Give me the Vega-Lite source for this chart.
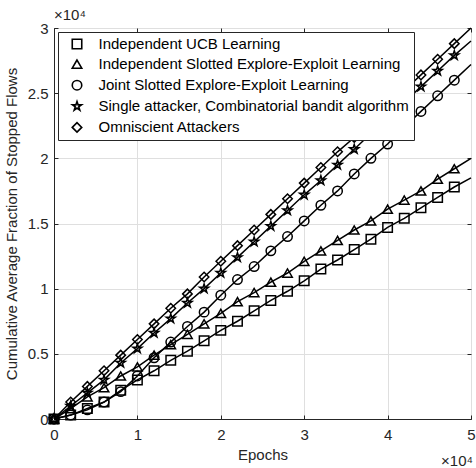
{
  "$schema": "https://vega.github.io/schema/vega-lite/v6.json",
  "width": 417,
  "height": 391,
  "autosize": {"type": "none"},
  "padding": {"left": 54, "top": 28, "right": 5, "bottom": 49},
  "background": "white",
  "config": {
    "font": "Liberation Sans",
    "view": {"stroke": "#262626", "strokeWidth": 1},
    "axis": {
      "labelFontSize": 15,
      "titleFontSize": 15,
      "labelColor": "#262626",
      "titleColor": "#262626",
      "titleFontWeight": "normal",
      "domainColor": "#262626",
      "tickColor": "#262626",
      "gridColor": "#dfdfdf",
      "gridWidth": 1,
      "tickSize": -4,
      "labelFlush": false
    },
    "legend": {
      "orient": "top-left",
      "offset": 4,
      "fillColor": "white",
      "strokeColor": "#262626",
      "padding": 4.5,
      "labelFontSize": 15,
      "labelColor": "black",
      "labelLimit": 500,
      "labelOffset": 14,
      "symbolOffset": 7,
      "symbolStrokeColor": "black",
      "symbolFillColor": "transparent",
      "symbolStrokeWidth": 1.6,
      "symbolSize": 90,
      "rowPadding": 4.1
    }
  },
  "title": {"text": "×10⁴", "anchor": "start", "frame": "group", "fontSize": 15, "fontWeight": "normal", "color": "#262626", "offset": -2},
  "data": {"values": [
    {"series": "Independent UCB Learning", "epoch": 0, "value": 0},
    {"series": "Independent UCB Learning", "epoch": 2000, "value": 300},
    {"series": "Independent UCB Learning", "epoch": 4000, "value": 800},
    {"series": "Independent UCB Learning", "epoch": 6000, "value": 1300},
    {"series": "Independent UCB Learning", "epoch": 8000, "value": 2200},
    {"series": "Independent UCB Learning", "epoch": 10000, "value": 3000},
    {"series": "Independent UCB Learning", "epoch": 12000, "value": 3700},
    {"series": "Independent UCB Learning", "epoch": 14000, "value": 4500},
    {"series": "Independent UCB Learning", "epoch": 16000, "value": 5200},
    {"series": "Independent UCB Learning", "epoch": 18000, "value": 6000},
    {"series": "Independent UCB Learning", "epoch": 20000, "value": 6800},
    {"series": "Independent UCB Learning", "epoch": 22000, "value": 7500},
    {"series": "Independent UCB Learning", "epoch": 24000, "value": 8300},
    {"series": "Independent UCB Learning", "epoch": 26000, "value": 9100},
    {"series": "Independent UCB Learning", "epoch": 28000, "value": 9800},
    {"series": "Independent UCB Learning", "epoch": 30000, "value": 10600},
    {"series": "Independent UCB Learning", "epoch": 32000, "value": 11500},
    {"series": "Independent UCB Learning", "epoch": 34000, "value": 12200},
    {"series": "Independent UCB Learning", "epoch": 36000, "value": 13000},
    {"series": "Independent UCB Learning", "epoch": 38000, "value": 13800},
    {"series": "Independent UCB Learning", "epoch": 40000, "value": 14700},
    {"series": "Independent UCB Learning", "epoch": 42000, "value": 15400},
    {"series": "Independent UCB Learning", "epoch": 44000, "value": 16200},
    {"series": "Independent UCB Learning", "epoch": 46000, "value": 17000},
    {"series": "Independent UCB Learning", "epoch": 48000, "value": 17800},
    {"series": "Independent UCB Learning", "epoch": 50000, "value": 18500},
    {"series": "Independent Slotted Explore-Exploit Learning", "epoch": 0, "value": 0},
    {"series": "Independent Slotted Explore-Exploit Learning", "epoch": 2000, "value": 800},
    {"series": "Independent Slotted Explore-Exploit Learning", "epoch": 4000, "value": 1700},
    {"series": "Independent Slotted Explore-Exploit Learning", "epoch": 6000, "value": 2400},
    {"series": "Independent Slotted Explore-Exploit Learning", "epoch": 8000, "value": 3300},
    {"series": "Independent Slotted Explore-Exploit Learning", "epoch": 10000, "value": 4000},
    {"series": "Independent Slotted Explore-Exploit Learning", "epoch": 12000, "value": 4900},
    {"series": "Independent Slotted Explore-Exploit Learning", "epoch": 14000, "value": 5700},
    {"series": "Independent Slotted Explore-Exploit Learning", "epoch": 16000, "value": 6500},
    {"series": "Independent Slotted Explore-Exploit Learning", "epoch": 18000, "value": 7300},
    {"series": "Independent Slotted Explore-Exploit Learning", "epoch": 20000, "value": 8100},
    {"series": "Independent Slotted Explore-Exploit Learning", "epoch": 22000, "value": 9000},
    {"series": "Independent Slotted Explore-Exploit Learning", "epoch": 24000, "value": 9700},
    {"series": "Independent Slotted Explore-Exploit Learning", "epoch": 26000, "value": 10500},
    {"series": "Independent Slotted Explore-Exploit Learning", "epoch": 28000, "value": 11200},
    {"series": "Independent Slotted Explore-Exploit Learning", "epoch": 30000, "value": 12100},
    {"series": "Independent Slotted Explore-Exploit Learning", "epoch": 32000, "value": 12900},
    {"series": "Independent Slotted Explore-Exploit Learning", "epoch": 34000, "value": 13700},
    {"series": "Independent Slotted Explore-Exploit Learning", "epoch": 36000, "value": 14500},
    {"series": "Independent Slotted Explore-Exploit Learning", "epoch": 38000, "value": 15200},
    {"series": "Independent Slotted Explore-Exploit Learning", "epoch": 40000, "value": 16100},
    {"series": "Independent Slotted Explore-Exploit Learning", "epoch": 42000, "value": 16800},
    {"series": "Independent Slotted Explore-Exploit Learning", "epoch": 44000, "value": 17500},
    {"series": "Independent Slotted Explore-Exploit Learning", "epoch": 46000, "value": 18400},
    {"series": "Independent Slotted Explore-Exploit Learning", "epoch": 48000, "value": 19200},
    {"series": "Independent Slotted Explore-Exploit Learning", "epoch": 50000, "value": 20000},
    {"series": "Joint Slotted Explore-Exploit Learning", "epoch": 0, "value": 0},
    {"series": "Joint Slotted Explore-Exploit Learning", "epoch": 2000, "value": 300},
    {"series": "Joint Slotted Explore-Exploit Learning", "epoch": 4000, "value": 700},
    {"series": "Joint Slotted Explore-Exploit Learning", "epoch": 6000, "value": 1300},
    {"series": "Joint Slotted Explore-Exploit Learning", "epoch": 8000, "value": 2100},
    {"series": "Joint Slotted Explore-Exploit Learning", "epoch": 10000, "value": 3300},
    {"series": "Joint Slotted Explore-Exploit Learning", "epoch": 12000, "value": 4700},
    {"series": "Joint Slotted Explore-Exploit Learning", "epoch": 14000, "value": 5900},
    {"series": "Joint Slotted Explore-Exploit Learning", "epoch": 16000, "value": 7100},
    {"series": "Joint Slotted Explore-Exploit Learning", "epoch": 18000, "value": 8200},
    {"series": "Joint Slotted Explore-Exploit Learning", "epoch": 20000, "value": 9500},
    {"series": "Joint Slotted Explore-Exploit Learning", "epoch": 22000, "value": 10700},
    {"series": "Joint Slotted Explore-Exploit Learning", "epoch": 24000, "value": 11700},
    {"series": "Joint Slotted Explore-Exploit Learning", "epoch": 26000, "value": 12900},
    {"series": "Joint Slotted Explore-Exploit Learning", "epoch": 28000, "value": 14000},
    {"series": "Joint Slotted Explore-Exploit Learning", "epoch": 30000, "value": 15200},
    {"series": "Joint Slotted Explore-Exploit Learning", "epoch": 32000, "value": 16400},
    {"series": "Joint Slotted Explore-Exploit Learning", "epoch": 34000, "value": 17500},
    {"series": "Joint Slotted Explore-Exploit Learning", "epoch": 36000, "value": 18800},
    {"series": "Joint Slotted Explore-Exploit Learning", "epoch": 38000, "value": 20000},
    {"series": "Joint Slotted Explore-Exploit Learning", "epoch": 40000, "value": 21100},
    {"series": "Joint Slotted Explore-Exploit Learning", "epoch": 42000, "value": 22400},
    {"series": "Joint Slotted Explore-Exploit Learning", "epoch": 44000, "value": 23600},
    {"series": "Joint Slotted Explore-Exploit Learning", "epoch": 46000, "value": 24800},
    {"series": "Joint Slotted Explore-Exploit Learning", "epoch": 48000, "value": 26000},
    {"series": "Joint Slotted Explore-Exploit Learning", "epoch": 50000, "value": 27200},
    {"series": "Single attacker, Combinatorial bandit algorithm", "epoch": 0, "value": 0},
    {"series": "Single attacker, Combinatorial bandit algorithm", "epoch": 2000, "value": 1000},
    {"series": "Single attacker, Combinatorial bandit algorithm", "epoch": 4000, "value": 2000},
    {"series": "Single attacker, Combinatorial bandit algorithm", "epoch": 6000, "value": 3000},
    {"series": "Single attacker, Combinatorial bandit algorithm", "epoch": 8000, "value": 4300},
    {"series": "Single attacker, Combinatorial bandit algorithm", "epoch": 10000, "value": 5400},
    {"series": "Single attacker, Combinatorial bandit algorithm", "epoch": 12000, "value": 6600},
    {"series": "Single attacker, Combinatorial bandit algorithm", "epoch": 14000, "value": 7700},
    {"series": "Single attacker, Combinatorial bandit algorithm", "epoch": 16000, "value": 8900},
    {"series": "Single attacker, Combinatorial bandit algorithm", "epoch": 18000, "value": 10000},
    {"series": "Single attacker, Combinatorial bandit algorithm", "epoch": 20000, "value": 11200},
    {"series": "Single attacker, Combinatorial bandit algorithm", "epoch": 22000, "value": 12400},
    {"series": "Single attacker, Combinatorial bandit algorithm", "epoch": 24000, "value": 13600},
    {"series": "Single attacker, Combinatorial bandit algorithm", "epoch": 26000, "value": 14800},
    {"series": "Single attacker, Combinatorial bandit algorithm", "epoch": 28000, "value": 16000},
    {"series": "Single attacker, Combinatorial bandit algorithm", "epoch": 30000, "value": 17200},
    {"series": "Single attacker, Combinatorial bandit algorithm", "epoch": 32000, "value": 18300},
    {"series": "Single attacker, Combinatorial bandit algorithm", "epoch": 34000, "value": 19500},
    {"series": "Single attacker, Combinatorial bandit algorithm", "epoch": 36000, "value": 20700},
    {"series": "Single attacker, Combinatorial bandit algorithm", "epoch": 38000, "value": 21900},
    {"series": "Single attacker, Combinatorial bandit algorithm", "epoch": 40000, "value": 23100},
    {"series": "Single attacker, Combinatorial bandit algorithm", "epoch": 42000, "value": 24300},
    {"series": "Single attacker, Combinatorial bandit algorithm", "epoch": 44000, "value": 25500},
    {"series": "Single attacker, Combinatorial bandit algorithm", "epoch": 46000, "value": 26700},
    {"series": "Single attacker, Combinatorial bandit algorithm", "epoch": 48000, "value": 27900},
    {"series": "Single attacker, Combinatorial bandit algorithm", "epoch": 50000, "value": 29000},
    {"series": "Omniscient Attackers", "epoch": 0, "value": 0},
    {"series": "Omniscient Attackers", "epoch": 2000, "value": 1300},
    {"series": "Omniscient Attackers", "epoch": 4000, "value": 2500},
    {"series": "Omniscient Attackers", "epoch": 6000, "value": 3700},
    {"series": "Omniscient Attackers", "epoch": 8000, "value": 4900},
    {"series": "Omniscient Attackers", "epoch": 10000, "value": 6100},
    {"series": "Omniscient Attackers", "epoch": 12000, "value": 7300},
    {"series": "Omniscient Attackers", "epoch": 14000, "value": 8500},
    {"series": "Omniscient Attackers", "epoch": 16000, "value": 9600},
    {"series": "Omniscient Attackers", "epoch": 18000, "value": 10900},
    {"series": "Omniscient Attackers", "epoch": 20000, "value": 12100},
    {"series": "Omniscient Attackers", "epoch": 22000, "value": 13300},
    {"series": "Omniscient Attackers", "epoch": 24000, "value": 14500},
    {"series": "Omniscient Attackers", "epoch": 26000, "value": 15700},
    {"series": "Omniscient Attackers", "epoch": 28000, "value": 16900},
    {"series": "Omniscient Attackers", "epoch": 30000, "value": 18100},
    {"series": "Omniscient Attackers", "epoch": 32000, "value": 19300},
    {"series": "Omniscient Attackers", "epoch": 34000, "value": 20500},
    {"series": "Omniscient Attackers", "epoch": 36000, "value": 21600},
    {"series": "Omniscient Attackers", "epoch": 38000, "value": 22800},
    {"series": "Omniscient Attackers", "epoch": 40000, "value": 24000},
    {"series": "Omniscient Attackers", "epoch": 42000, "value": 25200},
    {"series": "Omniscient Attackers", "epoch": 44000, "value": 26400},
    {"series": "Omniscient Attackers", "epoch": 46000, "value": 27600},
    {"series": "Omniscient Attackers", "epoch": 48000, "value": 28800},
    {"series": "Omniscient Attackers", "epoch": 50000, "value": 30000}
  ]},
  "resolve": {"axis": {"x": "independent", "y": "independent"}},
  "layer": [
    {
      "mark": {"type": "line", "color": "black", "strokeWidth": 1.5},
      "encoding": {
        "x": {"field": "epoch", "type": "quantitative", "scale": {"domain": [0, 50000], "nice": false},
              "axis": {"orient": "top", "labels": false, "title": null, "grid": false, "domain": false, "values": [0, 10000, 20000, 30000, 40000, 50000]}},
        "y": {"field": "value", "type": "quantitative", "scale": {"domain": [0, 30000], "nice": false},
              "axis": {"orient": "right", "labels": false, "title": null, "grid": false, "domain": false, "values": [0, 5000, 10000, 15000, 20000, 25000, 30000]}},
        "detail": {"field": "series"}
      }
    },
    {
      "transform": [{"filter": "datum.epoch < 50000"}],
      "mark": {"type": "point", "filled": false, "color": "black", "strokeWidth": 1.5, "size": 90, "opacity": 1},
      "encoding": {
        "x": {"field": "epoch", "type": "quantitative", "scale": {"domain": [0, 50000], "nice": false},
              "axis": {"orient": "bottom", "title": "Epochs", "grid": true, "values": [0, 10000, 20000, 30000, 40000, 50000], "labelExpr": "'' + datum.value / 10000", "labelPadding": 12, "titlePadding": 5}},
        "y": {"field": "value", "type": "quantitative", "scale": {"domain": [0, 30000], "nice": false},
              "axis": {"orient": "left", "title": "Cumulative Average Fraction of Stopped Flows", "grid": true, "values": [0, 5000, 10000, 15000, 20000, 25000, 30000], "labelExpr": "'' + datum.value / 10000", "labelPadding": 10, "titlePadding": 8}},
        "shape": {"field": "series", "type": "nominal",
                  "scale": {"domain": ["Independent UCB Learning", "Independent Slotted Explore-Exploit Learning", "Joint Slotted Explore-Exploit Learning", "Single attacker, Combinatorial bandit algorithm", "Omniscient Attackers"],
                            "range": ["square", "triangle-up", "circle", "M0,-1L0.225,-0.309L0.951,-0.309L0.363,0.118L0.588,0.809L0,0.382L-0.588,0.809L-0.363,0.118L-0.951,-0.309L-0.225,-0.309Z", "diamond"]},
                  "legend": {"title": null}}
      }
    },
    {
      "data": {"values": [{"label": "×10⁴"}]},
      "mark": {"type": "text", "align": "right", "baseline": "alphabetic", "dx": 2, "dy": 47, "fontSize": 15, "color": "#262626"},
      "encoding": {
        "x": {"datum": 50000, "type": "quantitative", "axis": null},
        "y": {"datum": 0, "type": "quantitative", "axis": null},
        "text": {"field": "label"}
      }
    }
  ]
}
